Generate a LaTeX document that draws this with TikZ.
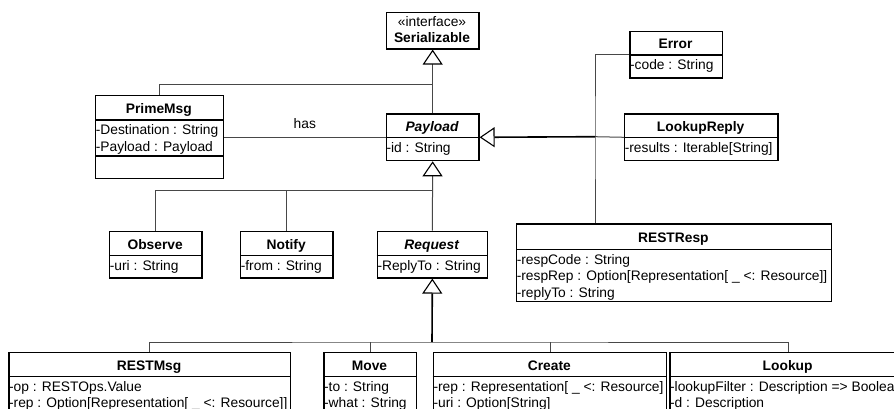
\documentclass[tikz,border=0pt]{standalone}
\usepackage{fontspec}
\setmainfont{Liberation Sans}
\usetikzlibrary{arrows.meta}

% UML class: name, left, top, right, divider, bottom, title, attribute lines
\newcommand\umlclass[8]{%
  \node[classbox, minimum width={(#4-#2)*1pt}, minimum height={(#6-#3)*1pt}, anchor=north west] (#1) at (#2,#3) {};
  \draw[classline] (#2,#5) -- (#4,#5);
  \node[classtitle] (#1-title) at ({(#2+#4)/2},{(#3+#5)/2+6}) {#7};
  \foreach \txt [count=\i] in {#8} {
    \node[classattr] (#1-attr\i) at (#2+0.6, #5+15+16.4*\i-16.4) {\txt};
  }%
}

\begin{document}
\begin{tikzpicture}[x=1pt, y=-1pt,
  txt/.style={font=\fontsize{13.8pt}{16.4pt}\selectfont, inner sep=0pt},
  classbox/.style={draw=black, line width=1.3pt, inner sep=0pt},
  classline/.style={draw=black, line width=1.3pt},
  classtitle/.style={txt, font=\fontsize{13.8pt}{16.4pt}\selectfont\bfseries, anchor=base},
  classattr/.style={txt, anchor=base west},
  conn/.style={draw=black!72, line width=1pt},
  trunk/.style={draw=black, line width=1.6pt},
  gen/.tip={Triangle[length=15pt, width=20pt, fill=white, color=black, line width=1.1pt]}
]
\fill[white] (0,0) rectangle (894,409);
\useasboundingbox (0,0) rectangle (894,409);
\clip (0,0) rectangle (894,409);

% interface
\node[classbox, minimum width=92.6pt, minimum height=36.6pt, anchor=north west] (serial) at (385.7,11.7) {};
\node[txt, anchor=base] (serial-st) at (432,26.7) {«interface»};
\node[classtitle] (serial-title) at (432,42.3) {Serializable};

% classes
\umlclass{primemsg}{95}{95}{222.7}{120}{178}{PrimeMsg}{-Destination : String, -Payload : Payload}
\draw[classline] (95,156) -- (222.7,156);
\umlclass{payload}{385.7}{113.3}{478.3}{137.7}{160}{\itshape Payload}{-id : String}
\umlclass{error}{629.3}{30.7}{721.7}{55}{77.3}{Error}{-code : String}
\umlclass{lookupreply}{624}{113.3}{777.3}{137.3}{160}{LookupReply}{-results : Iterable[String]}
\umlclass{observe}{109}{230.7}{201.3}{255.3}{277.3}{Observe}{-uri : String}
\umlclass{notify}{240}{230.7}{332.3}{255.3}{277.3}{Notify}{-from : String}
\umlclass{request}{376.7}{230.7}{486.7}{255.3}{277.3}{\itshape Request}{-ReplyTo : String}
\umlclass{resp}{516}{223.3}{830.7}{249.3}{301}{RESTResp}{-respCode : String, -respRep : Option[Representation[ \_ <: Resource]], -replyTo : String}
\umlclass{restmsg}{8.3}{351.7}{290}{376.3}{440}{RESTMsg}{-op : RESTOps.Value, -rep : Option[Representation[ \_ <: Resource]]}
\umlclass{move}{323.3}{351.7}{415.7}{376.3}{440}{Move}{-to : String, -what : String}
\umlclass{create}{432.7}{351.7}{666}{376.3}{440}{Create}{-rep : Representation[ \_ <: Resource], -uri : Option[String]}
\umlclass{lookup}{669.3}{351.7}{906}{376.3}{440}{Lookup}{-lookupFilter : Description => Boolean, -d : Description}

% junction points of the connector trees
\coordinate (rbus) at (595,136.7);
\coordinate (pbus) at (432,190);
\coordinate (qbus) at (432,342);

% Payload and PrimeMsg implement Serializable
\draw[conn, -{gen}] (payload.north) -- (serial.south);
\draw[conn] (primemsg.north) -- ++(0,-10) -| (payload.north);

% association
\draw[conn] (primemsg.east) -- (primemsg.east -| payload.west)
  node[txt, midway, anchor=base, yshift=8.5pt] (has) {has};

% responses extend Payload
\draw[conn] (error.west) -| (rbus) -- (rbus |- resp.north);
\draw[conn] (lookupreply.west) -- (rbus);
\draw[trunk, -{gen}] (rbus) -- (payload.east);

% messages extend Payload
\draw[conn, -{gen}] (request.north) -- (payload.south);
\draw[conn] (observe.north) |- (pbus);
\draw[conn] (notify.north) -- (notify.north |- pbus);

% requests extend Request
\draw[conn] (restmsg.north) |- (qbus) -| (lookup.north);
\draw[conn] (move.north) -- (move.north |- qbus);
\draw[conn] (create.north) -- (create.north |- qbus);
\draw[trunk, -{gen}] (qbus) -- (request.south);
\end{tikzpicture}
\end{document}
